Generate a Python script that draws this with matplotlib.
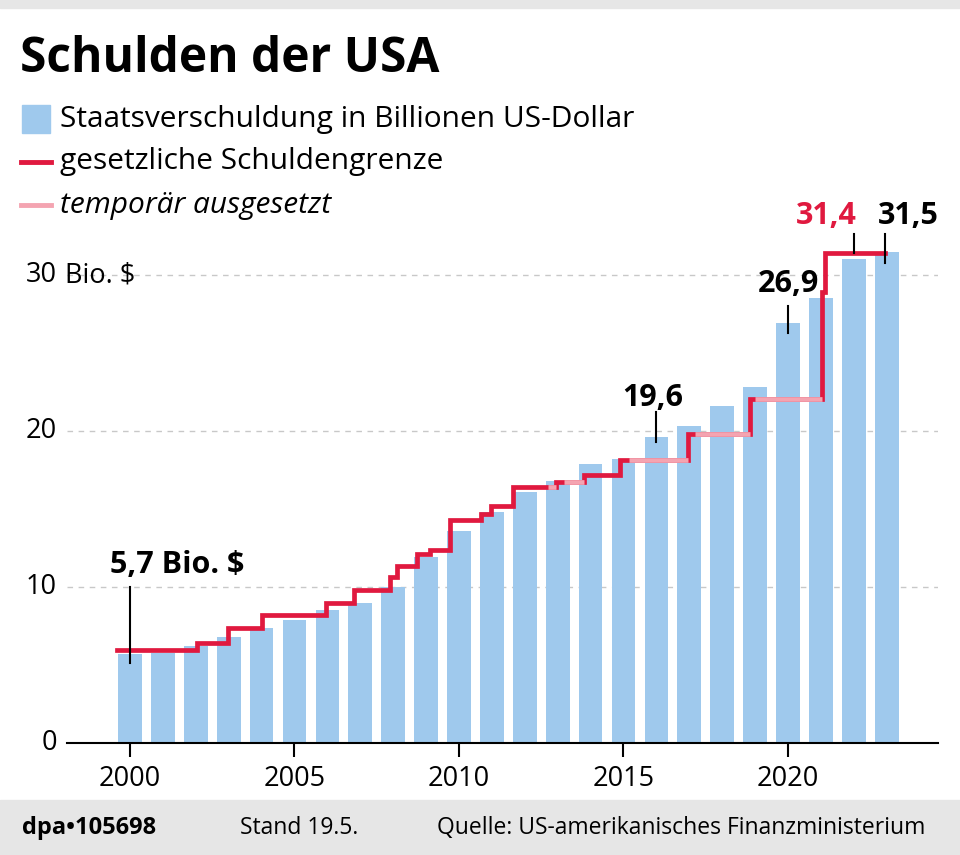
import numpy as np
import matplotlib
matplotlib.use('agg')
from matplotlib import pyplot as plt

plt.rcParams['font.family'] = ['Open Sans', 'DejaVu Sans']

# data: national debt (trillion USD) per year
years = list(range(2000, 2024))
debt = [5.7, 5.8, 6.2, 6.8, 7.4, 7.9, 8.5, 9.0, 10.0, 11.9, 13.6, 14.8,
        16.1, 16.8, 17.9, 18.2, 19.6, 20.3, 21.6, 22.8, 26.9, 28.5, 31.0, 31.5]

# debt limit steps: start year, level, suspended?
limit_x = [1999.6, 2002.04, 2002.98, 2004.0, 2005.96, 2006.81, 2007.9, 2008.12,
           2008.72, 2009.12, 2009.73, 2010.67, 2010.97, 2011.64, 2012.7, 2012.95,
           2013.19, 2013.8, 2014.9, 2015.17, 2016.96, 2017.17, 2018.84, 2018.99,
           2021.03, 2021.12]
limit_y = [5.95, 6.4, 7.38, 8.18, 8.97, 9.82, 10.62, 11.32,
           12.1, 12.39, 14.29, 14.69, 15.19, 16.39, 16.39, 16.7,
           16.7, 17.21, 18.11, 18.11, 19.81, 19.81, 22.03, 22.03,
           28.9, 31.4]
limit_susp = [0, 0, 0, 0, 0, 0, 0, 0,
              0, 0, 0, 0, 0, 0, 1, 0,
              1, 0, 0, 1, 0, 1, 0, 1,
              0, 0]
limit_end = 2022.95

BLUE = '#9fc9ed'
RED = '#e0193f'
PINK = '#f4a4b1'

W, H = 960, 855
fig = plt.figure(figsize=(W / 100, H / 100), dpi=100)

def px(x, y):
    return x / W, 1 - y / H

# top stripe and footer band
fig.patches.append(plt.Rectangle((0, 1 - 8 / H), 1, 8 / H, transform=fig.transFigure, color='#e6e6e6'))
fig.patches.append(plt.Rectangle((0, 0), 1, 55 / H, transform=fig.transFigure, color='#e6e6e6'))

fig.text(*px(20, 60), 'Schulden der USA', fontsize=34.5, fontweight='bold', va='center')

# legend
fig.patches.append(plt.Rectangle(px(22, 133), 28 / W, 28 / H, transform=fig.transFigure, color=BLUE))
fig.text(*px(60, 119), 'Staatsverschuldung in Billionen US-Dollar', fontsize=21.5, va='center')
fig.lines.append(plt.Line2D([21 / W, 51 / W], [1 - 162 / H] * 2, transform=fig.transFigure, color=RED, lw=3.5))
fig.text(*px(60, 162), 'gesetzliche Schuldengrenze', fontsize=21.5, va='center')
fig.lines.append(plt.Line2D([21 / W, 51 / W], [1 - 205 / H] * 2, transform=fig.transFigure, color=PINK, lw=3.5))
fig.text(*px(60, 205), 'temporär ausgesetzt', fontsize=21.5, va='center', style='italic')

# footer
fig.text(*px(22, 828), 'dpa\u2022105698', fontsize=17, fontweight='bold', va='center')
fig.text(*px(240, 828), 'Stand 19.5.', fontsize=16.5, va='center')
fig.text(*px(437, 828), 'Quelle: US-amerikanisches Finanzministerium', fontsize=16.5, va='center')

ax = fig.add_axes([67 / W, 1 - 743 / H, (938 - 67) / W, (743 - 230) / H])
ax.set_xlim(1998.085, 2024.56)
ax.set_ylim(0, (743 - 230) / 15.6)
for s in ['top', 'right', 'left']:
    ax.spines[s].set_visible(False)
ax.spines['bottom'].set_linewidth(1.5)

ax.bar(years, debt, width=0.72, color=BLUE, zorder=2)

for g in [10, 20, 30]:
    ax.axhline(g, color='#c8c8c8', lw=1, ls=(0, (4, 4)), zorder=1)

# debt limit: red step line, pink overlay for suspended periods
xs = limit_x + [limit_end]
ys = limit_y + [limit_y[-1]]
ax.step(xs, ys, where='post', color=RED, lw=3.4, zorder=4, solid_joinstyle='miter')
for i, s in enumerate(limit_susp):
    if s:
        ax.plot([xs[i], xs[i + 1]], [ys[i], ys[i]], color=PINK, lw=3.4, zorder=5,
                solid_capstyle='butt')

ax.set_xticks([2000, 2005, 2010, 2015, 2020])
ax.set_xticklabels(['2000', '2005', '2010', '2015', '2020'], fontsize=19.5)
ax.tick_params(axis='x', length=10, width=1.5, pad=6)
ax.set_yticks([])

for v in [0, 10, 20, 30]:
    ax.text(1998.085 - 10 / 32.9, v, str(v), fontsize=19.5, ha='right', va='center')
ax.text(1998.085 - 9 / 32.9, 30, ' Bio. $', fontsize=19.5, ha='left', va='center')

# callouts
ax.plot([2000, 2000], [5.1, 10.0], color='black', lw=1.5, zorder=6)
ax.text(2001.43, 11.4, '5,7 Bio. $', fontsize=22, fontweight='bold', ha='center', va='center')
ax.plot([2016, 2016], [19.3, 21.2], color='black', lw=1.5, zorder=6)
ax.text(2015.9, 22.1, '19,6', fontsize=22, fontweight='bold', ha='center', va='center')
ax.plot([2020, 2020], [26.3, 28.0], color='black', lw=1.5, zorder=6)
ax.text(2020.0, 29.4, '26,9', fontsize=22, fontweight='bold', ha='center', va='center')
ax.plot([2022, 2022], [31.4, 32.6], color='black', lw=1.5, zorder=6)
ax.text(2021.15, 33.8, '31,4', fontsize=22, fontweight='bold', color=RED, ha='center', va='center', clip_on=False)
ax.plot([2022.95, 2022.95], [30.8, 32.6], color='black', lw=1.5, zorder=6)
ax.text(2023.65, 33.8, '31,5', fontsize=22, fontweight='bold', ha='center', va='center', clip_on=False)

fig.savefig('out.png', dpi=100)
